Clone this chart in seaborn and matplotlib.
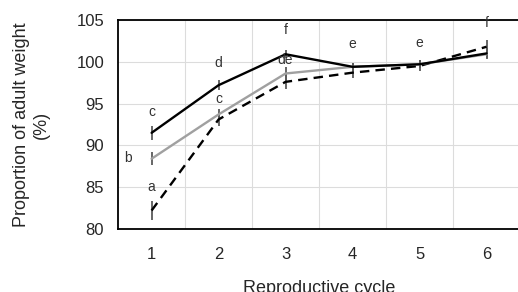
"""
Proportion of adult weight across reproductive cycles.
"""
import pandas as pd
import seaborn as sns
from matplotlib import pyplot as plt

cycles = [1, 2, 3, 4, 5, 6]
solid_values = [91.5, 97.2, 100.9, 99.4, 99.7, 101.0]
gray_values = [88.4, 93.7, 98.6, 99.4, 99.7, 100.9]
dashed_values = [82.2, 93.1, 97.6, 98.7, 99.5, 101.8]
solid_err = [0.8, 0.6, 0.5, 0.5, 0.5, 0.6]
gray_err = [0.8, 0.6, 0.8, 0.5, 0.5, 0.6]
dashed_err = [1.1, 0.8, 0.8, 0.6, 0.6, 0.8]

letter_x = [1, 0.65, 1, 2, 2, 3, 3, 4, 5, 6]
letter_y = [94.0, 88.5, 85.0, 99.8, 95.6, 103.8, 100.2, 102.1, 102.3, 104.7]
letter_text = ['c', 'b', 'a', 'd', 'c', 'f', 'de', 'e', 'e', 'f']

sns.set_style('white')
plt.rcParams['font.family'] = ['Liberation Sans', 'DejaVu Sans']

df = pd.DataFrame({
    'cycle': cycles * 3,
    'weight': solid_values + gray_values + dashed_values,
    'group': ['solid'] * 6 + ['gray'] * 6 + ['dashed'] * 6,
})

fig = plt.figure(figsize=(5.18, 2.92), dpi=100)
ax = fig.add_axes([0.228, 0.216, 0.776, 0.7155])

styles = {'solid': ('black', '-'), 'gray': ('#a0a0a0', '-'),
          'dashed': ('black', (0, (4, 2.6)))}
errs = {'solid': solid_err, 'gray': gray_err, 'dashed': dashed_err}
for name in ['dashed', 'gray', 'solid']:
    sub = df[df['group'] == name]
    color, ls = styles[name]
    ax.errorbar(sub['cycle'], sub['weight'], yerr=errs[name], fmt='none',
                ecolor='#5a5a5a', elinewidth=1.3, capsize=0, zorder=2)
    sns.lineplot(data=sub, x='cycle', y='weight', color=color,
                 linestyle=ls, linewidth=1.7, ax=ax, zorder=3)

for x, y, t in zip(letter_x, letter_y, letter_text):
    ax.text(x, y, t, ha='center', va='center', fontsize=10, color='#333333')

ax.set_xlim(0.5, 6.5)
ax.set_ylim(80, 105)
ax.set_yticks([80, 85, 90, 95, 100, 105])
ax.set_xticks([1.5, 2.5, 3.5, 4.5, 5.5])
ax.set_xticklabels([])
ax.set_xticks(cycles, minor=True)
ax.set_xticklabels([str(c) for c in cycles], minor=True)
ax.tick_params(axis='x', which='major', direction='out', length=5,
               width=1.2, color='black')
ax.tick_params(axis='x', which='minor', length=0, pad=13, labelsize=12)
ax.tick_params(axis='y', direction='out', length=7, width=1.2,
               color='black', labelsize=12, pad=3)
ax.grid(True, which='major', color='#dcdcdc', linewidth=0.8)
for side in ['left', 'bottom', 'top']:
    ax.spines[side].set_color('black')
    ax.spines[side].set_linewidth(1.3)
ax.spines['right'].set_visible(False)

ax.set_xlabel('Reproductive cycle', fontsize=13, labelpad=13)
ax.set_ylabel('')
fig.text(0.06, 0.572, 'Proportion of adult weight\n(%)', rotation=90,
         ha='center', va='center', fontsize=13, multialignment='center')

fig.savefig('out.png', dpi=100)
